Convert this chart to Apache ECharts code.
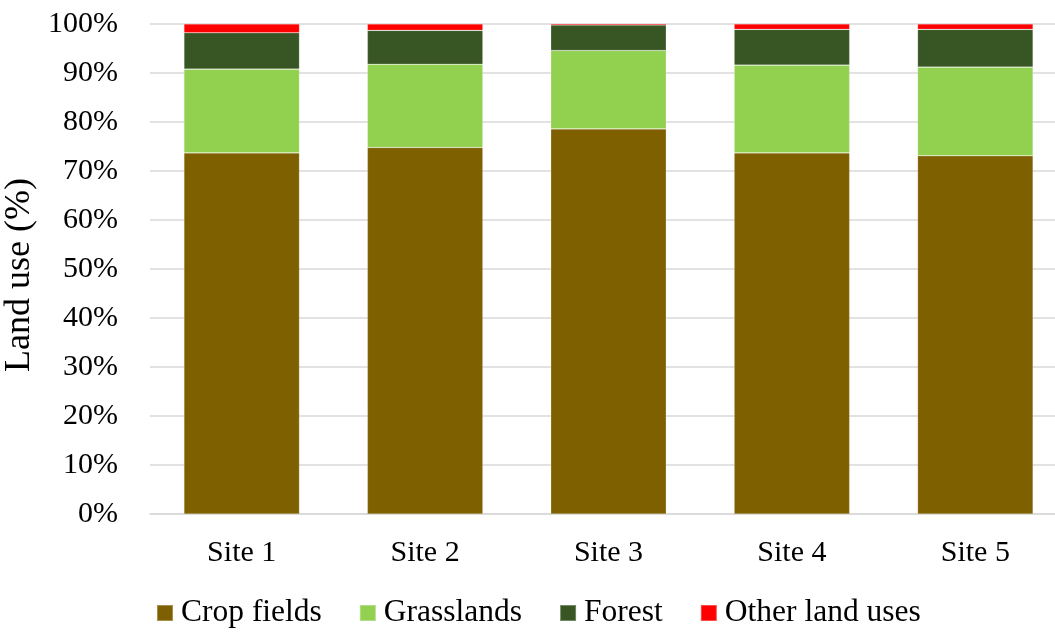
<!DOCTYPE html>
<html>
<head>
<meta charset="utf-8">
<title>Land use by site</title>
<script src="https://cdn.jsdelivr.net/npm/echarts@6/dist/echarts.min.js"></script>
<style>
  html, body { margin: 0; padding: 0; background: #ffffff; }
  #chart { width: 1055px; height: 632px; }
</style>
</head>
<body>
<div id="chart"></div>
<script>
// Sites along the horizontal axis
const sites = ['Site 1', 'Site 2', 'Site 3', 'Site 4', 'Site 5'];

// Share of each land-use class per site (%)
const cropFields = [73.7, 74.8, 78.6, 73.7, 73.1];
const grasslands = [17.1, 17.0, 16.0, 17.9, 18.1];
const forest     = [7.4, 6.9, 5.2, 7.3, 7.7];
const otherUses  = [1.8, 1.3, 0.3, 1.1, 1.1];

const seriesNames = ['Crop fields', 'Grasslands', 'Forest', 'Other land uses'];
const seriesData = [cropFields, grasslands, forest, otherUses];
const seriesColors = ['#7F6000', '#92D050', '#375623', '#FF0000'];

const FONT = '"Liberation Serif", "Times New Roman", serif';

const chart = echarts.init(document.getElementById('chart'), null, { renderer: 'canvas' });

chart.setOption({
  animation: false,
  backgroundColor: '#ffffff',
  grid: {
    left: 150, top: 24, width: 917, height: 490,
    containLabel: false, outerBoundsMode: 'none'
  },
  legend: {
    left: 156,
    top: 597,
    padding: 0,
    itemWidth: 16,
    itemHeight: 16,
    itemGap: 37,
    icon: 'rect',
    textStyle: { fontFamily: FONT, fontSize: 31.5, color: '#000000', padding: [0, 0, 0, 3] },
    data: seriesNames
  },
  xAxis: {
    type: 'category',
    data: sites,
    axisLine: { show: true, lineStyle: { color: '#D9D9D9', width: 1.5 } },
    axisTick: { show: false },
    axisLabel: { fontFamily: FONT, fontSize: 30, color: '#000000', margin: 24 }
  },
  yAxis: {
    type: 'value',
    min: 0,
    max: 100,
    interval: 10,
    name: 'Land use (%)',
    nameLocation: 'middle',
    nameGap: 103,
    nameRotate: 90,
    nameTextStyle: { fontFamily: FONT, fontSize: 36, color: '#000000', padding: [0, 12, 0, 0] },
    axisLine: { show: false },
    axisTick: { show: false },
    splitLine: { lineStyle: { color: '#D9D9D9', width: 1.5 } },
    axisLabel: {
      fontFamily: FONT, fontSize: 30, color: '#000000', margin: 32,
      formatter: v => v + '%'
    }
  },
  series: seriesNames.map((name, i) => ({
    name,
    type: 'bar',
    stack: 'landuse',
    barWidth: '63%',
    data: seriesData[i],
    itemStyle: {
      color: seriesColors[i],
      borderColor: 'rgba(255,255,255,0.3)',
      borderWidth: 0.6
    }
  }))
});
</script>
</body>
</html>
